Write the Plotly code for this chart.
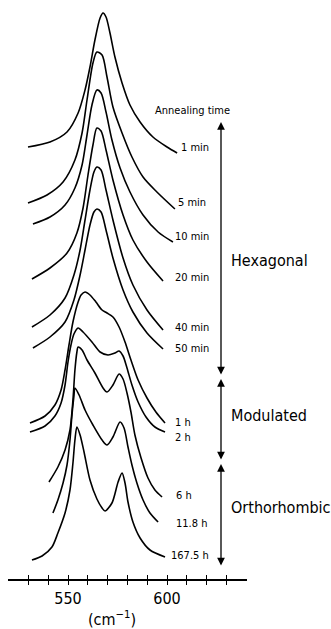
import plotly.graph_objects as go

# ---------------- data ----------------
# wavenumber (cm^-1) and stacked intensity (arbitrary units, offset included)
labels = ["1 min", "5 min", "10 min", "20 min", "40 min", "50 min",
          "1 h", "2 h", "6 h", "11.8 h", "167.5 h"]

wn_1min = [529.8, 540.9, 549.5, 555.1, 558.6, 561.1, 563.6, 566.2, 567.7, 569.2,
           571.2, 573.7, 577.3, 581.3, 586.4, 592.9, 600.0, 605.1]
in_1min = [432, 437, 447, 466, 489, 512, 539, 561, 566, 562,
           546, 522, 496, 474, 457, 442, 432, 426]

wn_5min = [529.8, 539.4, 547.5, 553.5, 557.1, 559.6, 562.6, 564.6, 567.2, 569.7,
           572.7, 577.3, 582.3, 587.9, 594.9, 604.0]
in_5min = [376, 384, 397, 419, 446, 479, 516, 527, 524, 502,
           472, 446, 422, 402, 387, 370]

wn_10min = [532.3, 540.9, 548.5, 553.5, 557.1, 559.6, 562.1, 564.6, 566.7, 569.2,
            572.2, 576.3, 581.3, 587.9, 595.5, 603.0]
in_10min = [355, 362, 374, 391, 414, 444, 474, 489, 486, 467,
            439, 411, 387, 364, 347, 337]

wn_20min = [531.8, 540.9, 549.5, 554.5, 557.6, 560.1, 562.6, 564.6, 566.7, 569.2,
            572.7, 577.8, 582.8, 589.9, 598.0]
in_20min = [300, 311, 326, 346, 371, 404, 434, 451, 448, 429,
            399, 364, 339, 317, 298]

wn_40min = [531.8, 540.9, 548.5, 553.0, 556.1, 558.6, 561.1, 563.1, 564.6, 566.7,
            569.2, 572.7, 577.8, 582.8, 589.9, 598.0]
in_40min = [252, 264, 281, 304, 329, 359, 389, 407, 412, 409,
            389, 359, 321, 294, 269, 249]

wn_50min = [532.3, 540.9, 548.5, 553.0, 556.1, 558.6, 561.1, 563.1, 564.6, 566.7,
            569.2, 572.7, 577.8, 582.8, 589.9, 598.0]
in_50min = [231, 242, 257, 279, 304, 329, 354, 367, 370, 367,
            349, 321, 289, 267, 246, 230]

wn_1h = [530.8, 538.4, 543.4, 546.5, 548.5, 550.5, 552.5, 555.1, 556.6, 558.6,
         561.1, 564.1, 567.2, 569.7, 572.7, 575.8, 578.8, 581.8, 585.4, 589.9,
         594.4, 599.0]
in_1h = [156, 163, 174, 189, 209, 234, 257, 277, 284, 287,
         284, 277, 269, 266, 262, 252, 237, 219, 199, 181,
         167, 156]

wn_2h = [530.8, 538.4, 543.4, 546.5, 548.5, 550.0, 551.5, 553.0, 555.1, 557.6,
         562.1, 566.2, 570.2, 573.7, 575.8, 577.8, 579.8, 582.3, 585.4, 589.4,
         593.9, 599.0]
in_2h = [147, 153, 163, 176, 194, 217, 234, 245, 251, 247,
         237, 227, 224, 226, 228, 223, 211, 194, 177, 162,
         152, 147]

wn_6h = [540.4, 544.9, 548.5, 551.0, 552.5, 553.5, 554.5, 555.1, 557.1, 559.6,
         563.6, 567.7, 569.7, 572.7, 575.8, 577.8, 579.8, 581.8, 583.8, 586.9,
         590.4, 593.9, 597.5]
in_6h = [97, 112, 129, 149, 179, 209, 227, 232, 229, 219,
         206, 191, 187, 194, 205, 200, 186, 167, 144, 121,
         101, 89, 82]

wn_11h = [542.4, 544.9, 547.5, 549.5, 551.0, 552.0, 553.0, 553.5, 555.6, 558.6,
          562.6, 567.2, 569.7, 572.7, 576.3, 578.3, 580.3, 582.3, 584.8, 587.9,
          591.4, 595.5]
in_11h = [66, 79, 96, 114, 139, 164, 183, 191, 184, 169,
          154, 139, 134, 142, 157, 151, 132, 114, 96, 79,
          66, 57]

wn_167h = [531.8, 536.9, 541.9, 544.9, 548.5, 551.0, 552.5, 553.5, 554.5, 556.1,
           558.1, 561.1, 564.6, 567.2, 568.7, 572.2, 575.3, 577.3, 578.8, 580.3,
           582.8, 586.4, 591.4, 599.0]
in_167h = [19, 23, 32, 46, 66, 89, 116, 139, 152, 144,
           127, 99, 80, 71, 68, 76, 97, 106, 96, 77,
           57, 41, 29, 22]

tick_values = [530, 540, 550, 560, 570, 580, 590, 600, 610, 620, 630]
tick_text = ["", "", "550", "", "", "", "", "600", "", "", ""]

phases = ["Hexagonal", "Modulated", "Orthorhombic"]

# ---------------- figure ----------------
W, H = 331, 629
PLOT_BOTTOM = 579          # pixel row of the axis line


def X(px):
    return 550 + (px - 68) / 1.98


def Y(py):
    return PLOT_BOTTOM - py


def PY(py):                # paper y for pixel row
    return (PLOT_BOTTOM - py) / PLOT_BOTTOM


series = [(wn_1min, in_1min), (wn_5min, in_5min), (wn_10min, in_10min),
          (wn_20min, in_20min), (wn_40min, in_40min), (wn_50min, in_50min),
          (wn_1h, in_1h), (wn_2h, in_2h), (wn_6h, in_6h), (wn_11h, in_11h),
          (wn_167h, in_167h)]

fig = go.Figure()
for (wx, wy), name in zip(series, labels):
    fig.add_trace(go.Scatter(x=wx, y=wy, mode="lines", name=name,
                             line=dict(color="black", width=1.6,
                                       shape="spline", smoothing=0.8),
                             hoverinfo="skip", showlegend=False))

# invisible trace to carry the second (inside-tick) x axis
fig.add_trace(go.Scatter(x=[tick_values[0]], y=[0], xaxis="x2", mode="markers",
                         marker=dict(opacity=0), showlegend=False, hoverinfo="skip"))

FONT = "DejaVu Sans Condensed, Liberation Sans Narrow, DejaVu Sans, sans-serif"
TICKFONT = "Liberation Sans Narrow, DejaVu Sans Condensed, Liberation Sans, sans-serif"
dom = [8 / W, 247 / W]
xr = [X(8), X(247)]

fig.update_layout(
    width=W, height=H,
    margin=dict(l=0, r=0, t=0, b=H - PLOT_BOTTOM),
    paper_bgcolor="white", plot_bgcolor="white",
    font=dict(family=FONT, color="black"),
    xaxis=dict(domain=dom, range=xr, showline=True, linecolor="black",
               linewidth=1.5, ticks="outside", ticklen=4, tickwidth=1.2,
               tickcolor="black", tickvals=tick_values, ticktext=tick_text,
               tickfont=dict(size=16, family=TICKFONT), showgrid=False,
               zeroline=False, fixedrange=True),
    xaxis2=dict(domain=dom, range=xr, overlaying="x", anchor="y", side="bottom",
                showline=False, ticks="inside", ticklen=4, tickwidth=1.2,
                tickcolor="black", tickvals=tick_values, showticklabels=False,
                showgrid=False, zeroline=False),
    yaxis=dict(range=[0, PLOT_BOTTOM], visible=False, fixedrange=True),
)

annotations = []
# curve labels (centre pixel positions)
label_pos = [(195, 147), (192, 202), (192, 236), (192, 277), (192, 327), (192, 348),
             (183, 422), (183, 437), (184, 495), (191, 523), (190, 555)]
for name, (px, py) in zip(labels, label_pos):
    annotations.append(dict(x=X(px), y=Y(py), xref="x", yref="y", text=name,
                            showarrow=False, font=dict(size=11, family=FONT),
                            xanchor="center", yanchor="middle"))

annotations.append(dict(x=X(192), y=Y(110), xref="x", yref="y", text="Annealing time",
                        showarrow=False, font=dict(size=11, family=FONT),
                        xanchor="center", yanchor="middle"))

phase_pos = [(229, 260), (229, 415), (229, 507)]
for name, (px, py) in zip(phases, phase_pos):
    annotations.append(dict(x=X(px), y=Y(py), xref="x", yref="y", text=name,
                            showarrow=False, font=dict(size=16, family=FONT),
                            xanchor="left", yanchor="middle"))

# double-headed arrows
for top, bot in [(122, 376), (379, 461), (464, 567)]:
    annotations.append(dict(x=X(221), y=Y(top), ax=X(221), ay=Y(bot),
                            xref="x", yref="y", axref="x", ayref="y", text="",
                            showarrow=True, arrowhead=2, arrowsize=1.2,
                            arrowwidth=1.3, arrowcolor="black",
                            arrowside="end+start"))

# axis unit label below the tick labels
annotations.append(dict(x=X(112), y=PY(618), xref="x", yref="paper",
                        text="(cm<sup>\u22121</sup>)", showarrow=False,
                        font=dict(size=16, family=TICKFONT),
                        xanchor="center", yanchor="middle"))

fig.update_layout(annotations=annotations)
fig.write_html("out.html")
